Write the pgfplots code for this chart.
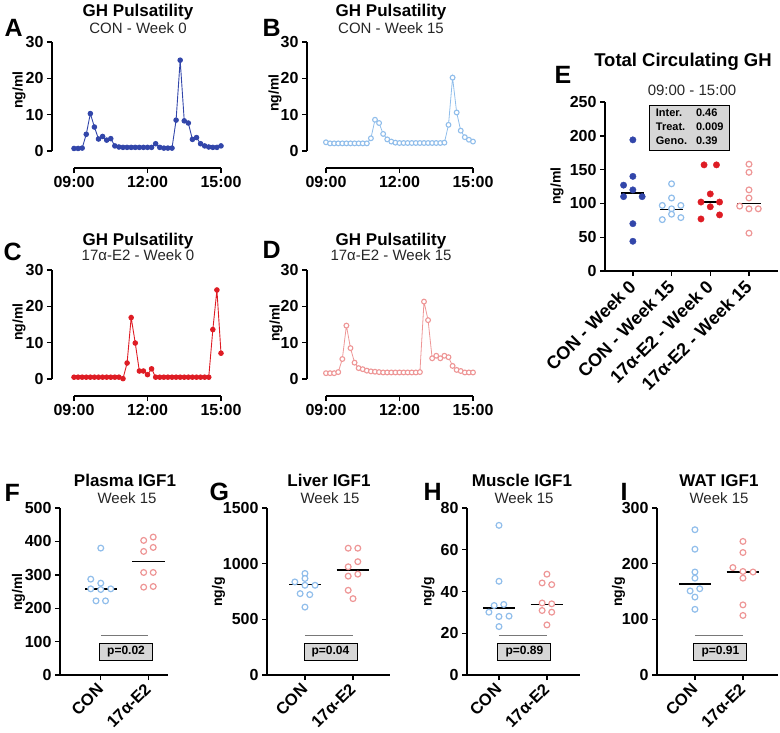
\documentclass[border=0pt]{standalone}
\usepackage{pgfplots}
\pgfplotsset{compat=1.18}
\usepackage{fontspec}
\setmainfont{Liberation Sans}
\definecolor{dblue}{RGB}{50,70,170}
\definecolor{lblue}{RGB}{145,190,235}
\definecolor{dred}{RGB}{222,28,36}
\definecolor{lred}{RGB}{238,150,150}
\definecolor{boxgray}{RGB}{214,214,214}
\definecolor{siggray}{RGB}{120,120,120}
\newcommand{\fs}[1]{\fontsize{#1}{#1}\selectfont}
\newcommand{\tslines}[1]{%
  \draw[line width=1.4pt] (axis cs:#1,0) -- (axis cs:#1,30);
  \draw[line width=1.4pt] (axis cs:0,-4.68) -- (axis cs:360,-4.68);}
\pgfplotsset{
  base/.style={scale only axis, anchor=south west, clip=false,
    axis x line*=bottom, axis y line*=left,
    axis line style={line width=1.4pt, black, -},
    tick align=outside, major tick length=5pt,
    every tick/.style={black, line width=1.4pt},
    tick label style={font=\bfseries\fs{16}},
    /pgf/number format/assume math mode=true,
    /pgf/number format/1000 sep={},
    scaled ticks=false},
  ts/.style={base, axis line style={draw=none},
    ymin=-4.68, ymax=30, ytick={0,10,20,30},
    xmax=360, xtick={0,180,360}, xticklabels={09:00,12:00,15:00},
    height=126pt},
  cat/.style={base, ymin=0, height=167pt,
    xtick={0,1}, xticklabels={CON,17α-E2},
    xticklabel style={yshift=-4pt, xshift=2pt, rotate=45, anchor=east, font=\bfseries\fs{16.5}}},
  fm/.style={only marks, mark=*, mark size=3.2pt, #1},
  om/.style={only marks, mark=*, mark size=2.9pt, #1, mark options={fill=white, line width=1.2pt}},
  med/.style={black, line width=1.6pt},
  sig/.style={siggray, line width=0.8pt},
}
\tikzset{pbox/.style={draw=black, line width=0.8pt, fill=boxgray, minimum width=53pt, minimum height=17pt, inner sep=0pt, font=\bfseries\fs{12}}}
\begin{document}
\begin{tikzpicture}
\path[use as bounding box] (0pt,0pt) rectangle (780pt,-732pt);

% ---------- A ----------
\begin{axis}[ts, at={(52pt,-168pt)}, width=169pt, xmin=-53.9]
\tslines{-53.9}
\addplot[dblue, line width=0.9pt, mark=*, mark size=2.3pt] table {
t v
0 0.7
10 0.7
20 0.8
30 4.6
40 10.3
50 6.6
60 3.3
70 4.0
80 3.0
90 3.4
100 1.4
110 1.1
120 1.0
130 1.0
140 1.0
150 1.0
160 1.0
170 1.0
180 1.0
190 1.0
200 2.0
210 1.0
220 0.8
230 0.8
240 0.8
250 8.5
260 25.0
270 8.3
280 7.7
290 3.2
300 3.7
310 2.0
320 1.4
330 1.1
340 1.0
350 1.0
360 1.4
};
\end{axis}

% ---------- B ----------
\begin{axis}[ts, at={(307pt,-168pt)}, width=166pt, xmin=-46.5]
\tslines{-46.5}
\addplot[lblue, line width=0.8pt, mark=*, mark size=2.4pt, mark options={fill=white, line width=1.1pt}] table {
t v
0 2.4
10 2.1
20 2.1
30 2.1
40 2.1
50 2.1
60 2.1
70 2.1
80 2.1
90 2.1
100 2.1
110 3.5
120 8.6
130 7.7
140 4.7
150 3.2
160 2.6
170 2.3
180 2.2
190 2.2
200 2.2
210 2.2
220 2.2
230 2.2
240 2.2
250 2.2
260 2.2
270 2.2
280 2.2
290 2.3
300 7.2
310 20.2
320 10.6
330 5.6
340 3.8
350 3.1
360 2.6
};
\end{axis}

% ---------- C ----------
\begin{axis}[ts, at={(52pt,-396pt)}, width=169pt, xmin=-53.9]
\tslines{-53.9}
\addplot[dred, line width=0.9pt, mark=*, mark size=2.3pt] table {
t v
0 0.5
10 0.5
20 0.5
30 0.5
40 0.5
50 0.5
60 0.5
70 0.5
80 0.5
90 0.5
100 0.5
110 0.5
120 0.1
130 4.4
140 16.9
150 9.9
160 2.2
170 2.2
180 1.2
190 2.8
200 0.5
210 0.5
220 0.5
230 0.5
240 0.5
250 0.5
260 0.5
270 0.5
280 0.5
290 0.5
300 0.5
310 0.5
320 0.5
330 0.5
340 13.6
350 24.5
360 7.1
};
\end{axis}

% ---------- D ----------
\begin{axis}[ts, at={(307pt,-396pt)}, width=166pt, xmin=-46.5]
\tslines{-46.5}
\addplot[lred, line width=0.8pt, mark=*, mark size=2.4pt, mark options={fill=white, line width=1.1pt}] table {
t v
0 1.6
10 1.6
20 1.6
30 1.9
40 5.5
50 14.7
60 8.5
70 4.5
80 3.0
90 2.7
100 2.3
110 2.1
120 2.0
130 1.9
140 1.8
150 1.8
160 1.8
170 1.8
180 1.8
190 1.8
200 1.8
210 1.8
220 1.8
230 1.9
240 21.3
250 16.2
260 5.7
270 6.4
280 5.7
290 6.4
300 6.0
310 3.6
320 2.5
330 2.2
340 1.8
350 1.8
360 1.8
};
\end{axis}

% ---------- E ----------
\begin{axis}[base, at={(605pt,-271pt)}, width=173pt, height=169pt,
  xmin=-0.72, xmax=3.75, ymin=0, ymax=250, ytick={0,50,100,150,200,250},
  xtick={0,1,2,3}, xticklabels={CON - Week 0,CON - Week 15,17α-E2 - Week 0,17α-E2 - Week 15},
  xticklabel style={yshift=-5pt, xshift=2pt, rotate=45, anchor=east, font=\bfseries\fs{18}}]
\addplot[fm=dblue] coordinates {(0,194) (0,140) (-0.24,127) (0,120) (-0.24,110) (0.24,110) (0,70) (0,44)};
\addplot[om=lblue] coordinates {(1,129) (1,108) (0.76,97) (1.24,97) (1,92) (0.76,76) (1,84) (1.24,79)};
\addplot[fm=dred] coordinates {(1.84,157) (2.16,157) (2,114) (1.76,102) (2.24,102) (2,95) (1.76,77) (2.24,83)};
\addplot[om=lred] coordinates {(3,158) (3,146) (3,120) (3,108) (2.76,96) (3,92) (3.24,92) (3,56)};
\addplot[med] coordinates {(-0.3,115) (0.3,115)};
\addplot[med] coordinates {(0.7,91) (1.3,91)};
\addplot[med] coordinates {(1.7,102) (2.3,102)};
\addplot[med] coordinates {(2.7,100) (3.3,100)};
\node[draw=black, line width=0.8pt, fill=boxgray, minimum width=80pt, minimum height=45pt, inner sep=0pt, font=\bfseries\fontsize{11}{14}\selectfont] at (axis cs:1.47,212)
 {\begin{tabular}{@{}l@{\hspace{9pt}}l@{}}Inter. & 0.46\\ Treat. & 0.009\\ Geno. & 0.39\end{tabular}};
\end{axis}

% ---------- F ----------
\begin{axis}[cat, at={(60pt,-675pt)}, width=108pt, xmin=-0.855, xmax=1.41, ymax=500, ytick={0,100,200,300,400,500}]
\addplot[om=lblue] coordinates {(0,380) (-0.21,287) (0,275) (-0.21,258) (0,256) (0.21,258) (-0.1,222) (0.1,222)};
\addplot[om=lred] coordinates {(0.9,403) (1.1,413) (0.9,370) (1.1,382) (0.9,307) (1.1,307) (0.9,263) (1.1,265)};
\addplot[med] coordinates {(-0.33,258) (0.33,258)};
\addplot[med] coordinates {(0.66,340) (1.34,340)};
\addplot[sig] coordinates {(0,120) (1,120)};
\node[pbox] at (axis cs:0.53,70) {p=0.02};
\end{axis}

% ---------- G ----------
\begin{axis}[cat, at={(267pt,-675pt)}, width=123pt, xmin=-0.79, xmax=1.77, ymax=1500, ytick={0,500,1000,1500}]
\addplot[om=lblue] coordinates {(0,912) (0,867) (-0.21,836) (0,806) (0.21,806) (-0.1,731) (0.1,722) (0,610)};
\addplot[om=lred] coordinates {(0.9,1139) (1.1,1139) (1.1,1018) (0.9,972) (1.1,906) (0.9,888) (0.9,761) (1,686)};
\addplot[med] coordinates {(-0.33,812) (0.33,812)};
\addplot[med] coordinates {(0.66,942) (1.34,942)};
\addplot[sig] coordinates {(0,359) (1,359)};
\node[pbox] at (axis cs:0.53,211) {p=0.04};
\end{axis}

% ---------- H ----------
\begin{axis}[cat, at={(467pt,-675pt)}, width=113pt, xmin=-0.667, xmax=1.69, ymax=80, ytick={0,20,40,60,80}]
\addplot[om=lblue] coordinates {(0,71.7) (0,44.9) (-0.1,33.3) (0.1,33.8) (-0.21,30.1) (0,28) (0.21,28.2) (0,23.2)};
\addplot[om=lred] coordinates {(1,48.3) (0.9,44.1) (1.1,43.3) (0.9,34.5) (1.1,34.1) (0.9,30.9) (1.1,30.1) (1,24)};
\addplot[med] coordinates {(-0.33,32) (0.33,32)};
\addplot[med] coordinates {(0.66,33.7) (1.34,33.7)};
\addplot[sig] coordinates {(0,19.2) (1,19.2)};
\node[pbox] at (axis cs:0.53,11.3) {p=0.89};
\end{axis}

% ---------- I ----------
\begin{axis}[cat, at={(657pt,-675pt)}, width=121pt, xmin=-0.79, xmax=1.73, ymax=300, ytick={0,100,200,300}]
\addplot[om=lblue] coordinates {(0,261) (0,226) (0,185) (0,174) (0.1,155) (-0.1,151) (0,140) (0,118)};
\addplot[om=lred] coordinates {(1,240) (1,220) (0.79,193) (1,186) (1.21,185) (1,174) (1,126) (1,107)};
\addplot[med] coordinates {(-0.33,164) (0.33,164)};
\addplot[med] coordinates {(0.66,185) (1.34,185)};
\addplot[sig] coordinates {(0,72) (1,72)};
\node[pbox] at (axis cs:0.53,42.2) {p=0.91};
\end{axis}

% ---------- titles ----------
\tikzset{ttl/.style={anchor=base, font=\bfseries\fs{17}}, sub/.style={anchor=base, font=\fs{15}, text=black!85}, let/.style={anchor=base west, font=\bfseries\fs{25}}, yl/.style={rotate=90, font=\bfseries\fs{14}}}
\node[ttl] at (138pt,-16.7pt) {GH Pulsatility};
\node[sub] at (138pt,-33.3pt) {CON - Week 0};
\node[ttl] at (391pt,-16.7pt) {GH Pulsatility};
\node[sub] at (391pt,-33.3pt) {CON - Week 15};
\node[ttl] at (138pt,-245pt) {GH Pulsatility};
\node[sub] at (138pt,-260pt) {17α-E2 - Week 0};
\node[ttl] at (391pt,-245pt) {GH Pulsatility};
\node[sub] at (391pt,-260pt) {17α-E2 - Week 15};
\node[anchor=base, font=\bfseries\fs{18.5}] at (683pt,-66.7pt) {Total Circulating GH};
\node[sub] at (692pt,-95pt) {09:00 - 15:00};
\node[ttl] at (125pt,-486.7pt) {Plasma IGF1};
\node[sub] at (127pt,-503.3pt) {Week 15};
\node[ttl] at (329pt,-486.7pt) {Liver IGF1};
\node[sub] at (330pt,-503.3pt) {Week 15};
\node[ttl] at (522pt,-486.7pt) {Muscle IGF1};
\node[sub] at (524pt,-503.3pt) {Week 15};
\node[ttl] at (719pt,-486.7pt) {WAT IGF1};
\node[sub] at (719pt,-503.3pt) {Week 15};

\node[let] at (1pt,-36.7pt) {A};
\node[let] at (259pt,-36.7pt) {B};
\node[let] at (0pt,-260pt) {C};
\node[let] at (259pt,-258pt) {D};
\node[let] at (551pt,-83.3pt) {E};
\node[let] at (1pt,-501.7pt) {F};
\node[let] at (206pt,-500.7pt) {G};
\node[let] at (420pt,-500.7pt) {H};
\node[let] at (617pt,-500.7pt) {I};

\node[yl] at (19pt,-90pt) {ng/ml};
\node[yl] at (275pt,-93pt) {ng/ml};
\node[yl] at (19pt,-322pt) {ng/ml};
\node[yl] at (276pt,-323pt) {ng/ml};
\node[yl] at (557pt,-186pt) {ng/ml};
\node[yl] at (18.5pt,-592pt) {ng/ml};
\node[yl] at (218.5pt,-592pt) {ng/g};
\node[yl] at (428pt,-592pt) {ng/g};
\node[yl] at (618.5pt,-592pt) {ng/g};
\end{tikzpicture}
\end{document}
